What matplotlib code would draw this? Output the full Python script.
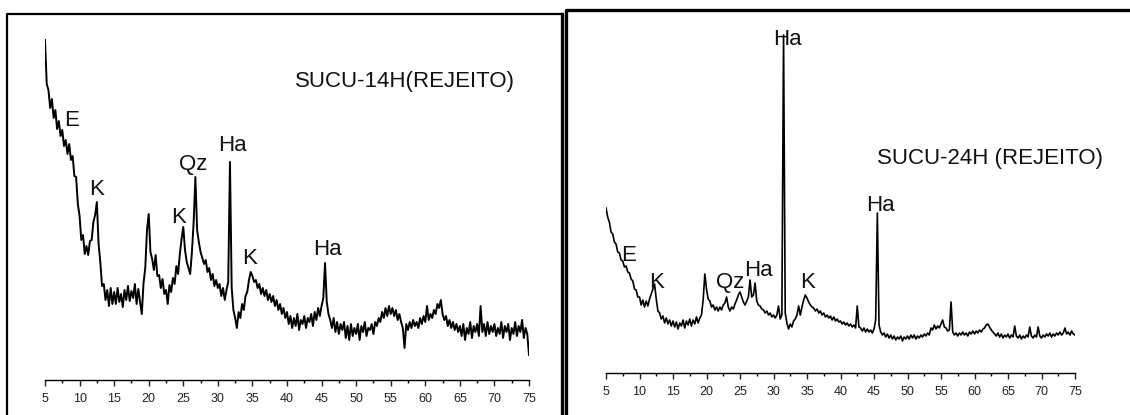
import numpy as np
import matplotlib
matplotlib.use("Agg")
import matplotlib.pyplot as plt
from matplotlib.lines import Line2D
from matplotlib.ticker import MultipleLocator

plt.rcParams['font.family'] = ['Liberation Sans', 'DejaVu Sans']

# XRD patterns, intensity (a.u.) read every 0.25 deg 2theta from 5 to 75
sucu14_counts = [
    340, 296, 290, 272, 281, 262, 270, 251, 259, 244, 250, 234, 240, 226, 236, 220, 224, 204, 203, 176,
    164, 140, 145, 126, 134, 125, 139, 140, 158, 165, 178, 136, 118, 94, 96, 80, 90, 74, 92, 76,
    88, 76, 92, 78, 86, 73, 90, 80, 94, 79, 89, 82, 96, 76, 91, 78, 66, 97, 112, 150,
    166, 128, 121, 110, 125, 104, 105, 92, 101, 86, 90, 76, 95, 88, 102, 96, 114, 106, 126, 141,
    153, 130, 118, 112, 106, 128, 158, 203, 150, 138, 128, 122, 116, 120, 108, 112, 100, 106, 94, 100,
    92, 96, 84, 92, 80, 90, 98, 218, 92, 70, 62, 52, 68, 62, 76, 70, 84, 88, 100, 108,
    104, 98, 100, 92, 96, 86, 92, 84, 90, 80, 86, 78, 84, 74, 80, 70, 76, 66, 72, 62,
    68, 56, 64, 52, 62, 54, 66, 50, 60, 56, 64, 52, 62, 58, 66, 54, 68, 60, 72, 64,
    74, 82, 117, 78, 66, 60, 52, 62, 48, 58, 46, 56, 50, 58, 42, 54, 40, 56, 44, 52,
    46, 56, 40, 54, 48, 58, 44, 52, 50, 56, 46, 58, 54, 62, 58, 68, 62, 72, 64, 74,
    66, 72, 64, 70, 60, 66, 58, 52, 32, 56, 50, 58, 52, 60, 54, 58, 52, 62, 56, 64,
    58, 74, 60, 66, 62, 70, 66, 76, 72, 80, 66, 60, 64, 54, 60, 52, 58, 50, 56, 48,
    54, 44, 56, 40, 52, 46, 58, 42, 54, 48, 56, 44, 74, 48, 56, 44, 58, 46, 54, 48,
    56, 44, 52, 46, 58, 42, 54, 48, 56, 40, 52, 46, 58, 44, 54, 48, 60, 42, 52, 46,
    25,
]

sucu24_counts = [
    165, 156, 151, 141, 139, 131, 129, 121, 120, 113, 112, 106, 107, 101, 100, 94, 92, 84, 83, 76,
    76, 68, 73, 66, 72, 67, 74, 79, 84, 89, 74, 62, 60, 54, 57, 50, 55, 49, 53, 47,
    52, 46, 51, 44, 50, 47, 53, 45, 52, 48, 54, 47, 53, 49, 56, 50, 55, 58, 73, 99,
    84, 74, 72, 66, 68, 63, 66, 62, 66, 63, 68, 70, 76, 66, 62, 66, 64, 69, 73, 78,
    81, 76, 71, 68, 72, 76, 93, 76, 78, 90, 72, 68, 67, 64, 63, 60, 62, 58, 60, 56,
    58, 55, 58, 67, 54, 58, 338, 60, 50, 44, 49, 46, 52, 54, 58, 67, 58, 66, 73, 78,
    75, 71, 68, 66, 65, 62, 64, 60, 62, 58, 60, 56, 58, 55, 57, 53, 56, 52, 54, 51,
    52, 49, 51, 48, 50, 47, 49, 46, 48, 45, 67, 46, 45, 42, 45, 41, 44, 41, 43, 40,
    44, 53, 160, 48, 41, 38, 40, 36, 39, 35, 38, 34, 37, 33, 36, 34, 37, 32, 36, 34,
    37, 34, 38, 35, 38, 34, 37, 35, 38, 36, 39, 37, 40, 38, 45, 43, 48, 44, 47, 45,
    49, 53, 46, 45, 42, 43, 71, 41, 38, 40, 37, 40, 38, 41, 38, 40, 37, 41, 39, 42,
    39, 42, 40, 43, 41, 44, 45, 48, 49, 46, 43, 41, 39, 37, 40, 36, 39, 35, 38, 36,
    39, 35, 38, 36, 47, 37, 35, 38, 34, 37, 35, 38, 36, 46, 37, 35, 38, 36, 46, 37,
    35, 38, 36, 39, 37, 40, 36, 39, 37, 40, 38, 41, 38, 40, 45, 39, 41, 38, 42, 39,
    38,
]

# phase labels: text, 2theta, intensity of label baseline
sucu14_labels = ['E', 'K', 'K', 'Qz', 'Ha', 'K', 'Ha']
sucu14_label_x = [8.9, 12.52, 24.38, 26.48, 32.12, 34.65, 45.79]
sucu14_label_y = [254, 185, 157, 210, 229, 116, 125]

sucu24_labels = ['E', 'K', 'Qz', 'Ha', 'Ha', 'K', 'Ha']
sucu24_label_x = [8.43, 12.61, 23.51, 27.69, 32.01, 35.15, 45.9]
sucu24_label_y = [112, 85, 85, 97, 328, 85, 162]

tick_values = list(range(5, 80, 5))

W, H = 1130, 415
fig = plt.figure(figsize=(W / 100, H / 100), dpi=100)


def add_panel(rect_px, counts, labels, lx, ly, title, title_xy, lw):
    left, right, top, bottom = rect_px
    ax = fig.add_axes([left / W, (H - bottom) / H, (right - left) / W, (bottom - top) / H])
    two_theta = np.linspace(5, 75, len(counts))
    ax.plot(two_theta, counts, color='black', lw=lw)
    ax.set_xlim(5, 75)
    ax.set_ylim(0, bottom - top)
    for s in ['left', 'right', 'top']:
        ax.spines[s].set_visible(False)
    ax.spines['bottom'].set_linewidth(1.0)
    ax.set_yticks([])
    ax.set_xticks(tick_values)
    ax.xaxis.set_minor_locator(MultipleLocator(2.5))
    ax.tick_params(axis='x', which='major', direction='out', length=4, width=1.0,
                   labelsize=9, pad=5, colors='#222222')
    ax.tick_params(axis='x', which='minor', direction='out', length=2.5, width=1.0)
    ax.patch.set_alpha(0)
    for t, x, y in zip(labels, lx, ly):
        ax.text(x, y, t, ha='center', va='baseline', fontsize=16, color='#111111')
    ax.text(title_xy[0], title_xy[1], title, ha='center', va='baseline',
            fontsize=16, color='#111111')
    return ax


add_panel((45, 529, 14, 380), sucu14_counts, sucu14_labels, sucu14_label_x,
          sucu14_label_y, 'SUCU-14H(REJEITO)', (57.07, 293), 1.4)
add_panel((606, 1075, 10, 373), sucu24_counts, sucu24_labels, sucu24_label_x,
          sucu24_label_y, 'SUCU-24H (REJEITO)', (62.31, 209), 1.2)


def frame_line(xs, ys, lw=1.6):
    fig.add_artist(Line2D([x / W for x in xs], [1 - y / H for y in ys],
                          color='black', lw=lw, solid_capstyle='projecting'))


# panel frames
frame_line([7, 7, 562], [415, 14, 14])
frame_line([562, 562], [14, 415], lw=2.4)
frame_line([566, 566, 1130], [415, 10, 10], lw=2.4)

fig.savefig('out.png', dpi=100)
